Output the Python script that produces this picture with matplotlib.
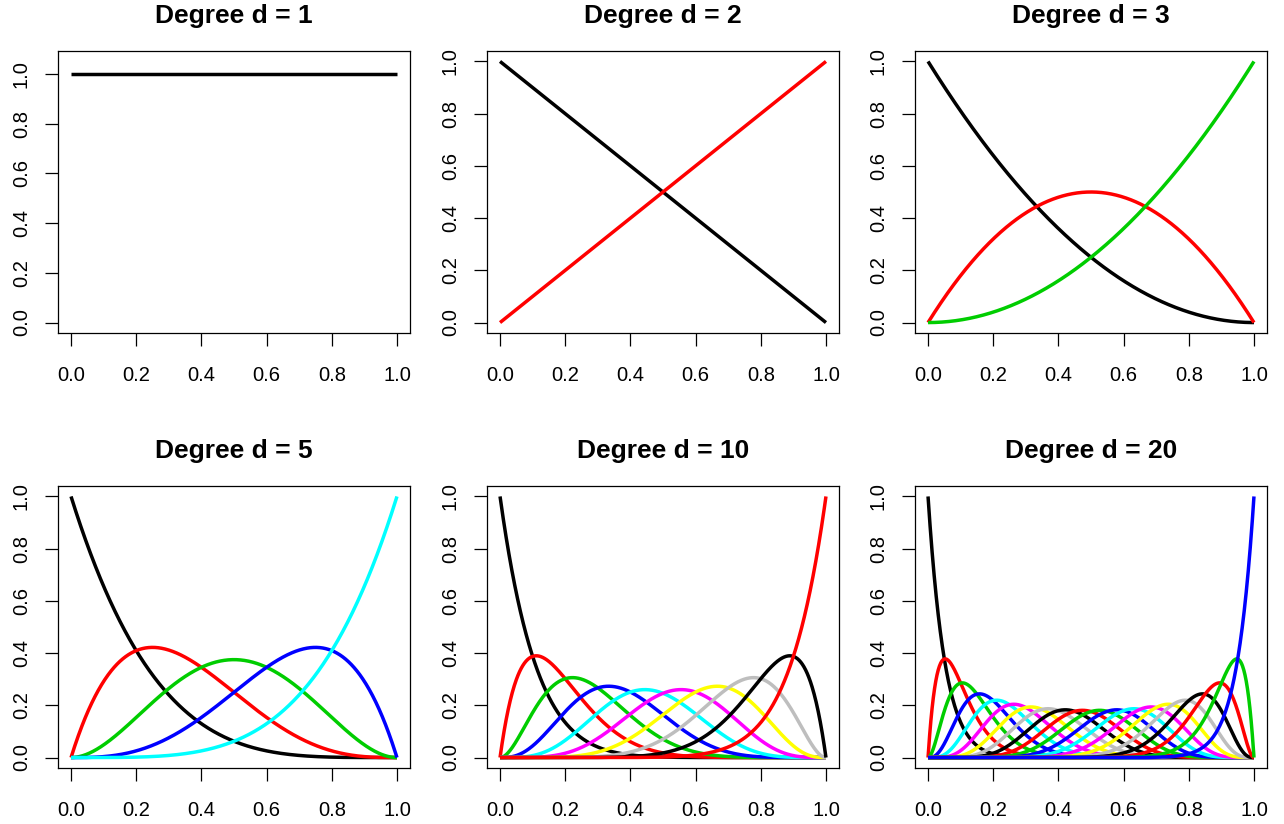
import numpy as np
import matplotlib
matplotlib.use("Agg")
import matplotlib.pyplot as plt
from math import comb

# --- data ---
degrees = [1, 2, 3, 5, 10, 20]          # number of Bernstein basis functions per panel
titles = [f"Degree d = {d}" for d in degrees]
palette = ["#000000", "#FF0000", "#00CD00", "#0000FF",
           "#00FFFF", "#FF00FF", "#FFFF00", "#BEBEBE"]   # R default palette
tick_vals = [0.0, 0.2, 0.4, 0.6, 0.8, 1.0]
tick_labels = ["0.0", "0.2", "0.4", "0.6", "0.8", "1.0"]

x = np.linspace(0, 1, 801)

def bernstein(n, k, t):
    return comb(n, k) * t**k * (1 - t)**(n - k)

plt.rcParams['font.family'] = ['Liberation Sans', 'DejaVu Sans']
fig = plt.figure(figsize=(12.84, 8.24), dpi=100)

W, H = 1284, 824
lefts = [58, 487, 915]
tops = [51, 486]
pw, ph = 352, 282

for i, d in enumerate(degrees):
    r, c = divmod(i, 3)
    ax = fig.add_axes([lefts[c] / W, 1 - (tops[r] + ph) / H, pw / W, ph / H])
    n = d - 1
    for k in range(d):
        ax.plot(x, bernstein(n, k, x), color=palette[k % len(palette)], lw=2.5,
                solid_capstyle='butt')
    ax.set_xlim(-0.04, 1.04)
    if d == 1:
        ax.set_ylim(-0.042, 1.092)
    else:
        ax.set_ylim(-0.04, 1.04)
    ax.set_xticks(tick_vals)
    ax.set_xticklabels(tick_labels)
    ax.set_yticks(tick_vals)
    ax.set_yticklabels(tick_labels, rotation=90, va='center')
    ax.tick_params(direction='out', length=9.5, width=0.9, labelsize=14.5,
                   color='black')
    ax.tick_params(axis='x', pad=14)
    ax.tick_params(axis='y', pad=10)
    for s in ax.spines.values():
        s.set_linewidth(0.9)
    ax.set_title(titles[i], fontsize=19, fontweight='bold', pad=20)

fig.savefig("out.png", dpi=100, facecolor='white')
